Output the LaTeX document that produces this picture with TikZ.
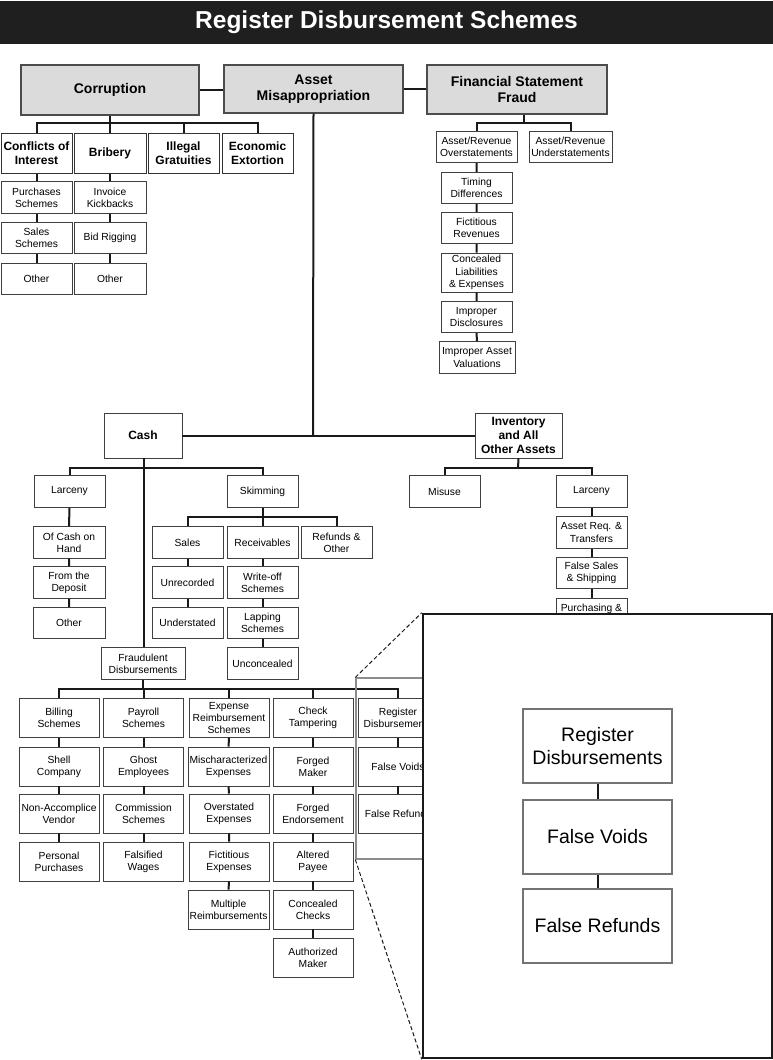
\documentclass[tikz,border=0pt]{standalone}
\usepackage{fontspec}
\setmainfont{Liberation Sans}
\usetikzlibrary{positioning,calc}

\begin{document}
\begin{tikzpicture}[x=1pt,y=-1pt,
    titlebar/.style={fill=black!88,text=white,minimum width=773pt,minimum height=43pt,inner sep=0pt,font=\fontsize{24.5}{28}\bfseries},
    topbox/.style={draw=black!70,fill=black!14,line width=1.2pt,align=center,inner sep=1pt,font=\fontsize{14}{16.5}\bfseries},
    midbox/.style={draw=black!80,fill=white,line width=1pt,align=center,inner sep=1pt,minimum width=71pt,minimum height=40pt,font=\fontsize{12}{14.5}\bfseries},
    box/.style={draw=black!75,fill=white,line width=0.9pt,align=center,inner sep=1pt,minimum width=71pt,minimum height=31.5pt,font=\fontsize{10.3}{12.3}\selectfont},
    wbox/.style={box,minimum width=80pt,minimum height=39pt},
    bigbox/.style={draw=black!55,fill=white,line width=1.2pt,align=center,minimum width=149pt,minimum height=74pt,font=\fontsize{19.5}{23}\selectfont},
    link/.style={draw=black!90,line width=2pt},
    srcframe/.style={draw=black!45,line width=1.3pt,minimum width=84pt,minimum height=181pt,inner sep=0pt},
    zoomframe/.style={draw=black!90,fill=white,line width=2.5pt,minimum width=349pt,minimum height=444pt,inner sep=0pt},
    zoomline/.style={draw=black!90,line width=1pt,dash pattern=on 4pt off 2.5pt},
]
\useasboundingbox (0,0) rectangle (773,1060);

% title
\node[titlebar] (title) at (386.5,22.5) {Register Disbursement Schemes};

% top level
\node[topbox,minimum width=178pt,minimum height=50pt] (corr)  at (110,90)    {Corruption};
\node[topbox,minimum width=179pt,minimum height=48pt] (asset) at (313.5,89)  {Asset\\Misappropriation};
\node[topbox,minimum width=180pt,minimum height=49pt] (fsf)   at (517,89.5)  {Financial Statement\\Fraud};
\draw[link] (corr.east) -- (corr.east -| asset.west);
\draw[link] (asset.east) -- (asset.east -| fsf.west);

% corruption branch
\node[midbox] (coi)  at (36.5,153)  {Conflicts of\\Interest};
\node[midbox,minimum width=72pt] (brib) at (110,153) {Bribery};
\node[midbox] (grat) at (183.5,153) {Illegal\\Gratuities};
\node[midbox] (ext)  at (257.5,153) {Economic\\Extortion};
\coordinate (corrbus) at (110,123);
\draw[link] (corr.south) -- (corrbus);
\draw[link] (coi.north) |- (corrbus) -| (ext.north);
\draw[link] (brib.north) -- (brib.north |- corrbus);
\draw[link] (grat.north) -- (grat.north |- corrbus);

\node[box] (coipurch)  at (36.5,197.5) {Purchases\\Schemes};
\node[box] (coisales)  at (36.5,238)   {Sales\\Schemes};
\node[box] (coiother)  at (36.5,279)   {Other};
\node[box,minimum width=72pt] (bribinv)   at (110,197.5) {Invoice\\Kickbacks};
\node[box,minimum width=72pt] (bribbid)   at (110,238)   {Bid Rigging};
\node[box,minimum width=72pt] (bribother) at (110,279)   {Other};
\draw[link] (coi) -- (coipurch) -- (coisales) -- (coiother);
\draw[link] (brib) -- (bribinv) -- (bribbid) -- (bribother);

% financial statement fraud branch
\node[box,minimum width=81pt] (fsfover)  at (476.5,147) {Asset/Revenue\\Overstatements};
\node[box,minimum width=83pt] (fsfunder) at (570.5,147) {Asset/Revenue\\Understatements};
\coordinate (fsfbus) at (523.5,123);
\draw[link] (fsfbus |- fsf.south) -- (fsfbus);
\draw[link] (fsfover.north) |- (fsfbus) -| (fsfunder.north);

\node[box] (timing)   at (476.5,188)   {Timing\\Differences};
\node[box] (fictrev)  at (476.5,228)   {Fictitious\\Revenues};
\node[box,minimum height=39pt] (concliab) at (476.5,272.5) {Concealed\\Liabilities\\\& Expenses};
\node[box] (impdisc)  at (476.5,317)   {Improper\\Disclosures};
\node[box,minimum width=76pt] (impval) at (477,357.5) {Improper Asset\\Valuations};
\draw[link] (fsfover) -- (timing) -- (fictrev) -- (concliab) -- (impdisc) -- (impval);

% asset misappropriation branch
\node[box,minimum width=78pt,minimum height=45pt,font=\fontsize{12}{14.5}\bfseries] (cash) at (143,435.5) {Cash};
\node[box,minimum width=87pt,minimum height=45pt,font=\fontsize{12}{14.2}\bfseries] (inv) at (518.5,435.5) {Inventory\\and All\\Other Assets};
\coordinate (assetbus) at (313,436);
\draw[link] (asset.south) -- (assetbus);
\draw[link] (cash.east) -- (cash.east -| inv.west);

% cash
\node[box] (larc) at (69.5,491.5)  {Larceny};
\node[box] (skim) at (262.5,491.5) {Skimming};
\node[box,minimum width=84pt] (fraud) at (143,663.5) {Fraudulent\\Disbursements};
\coordinate (cashbus) at (144,468);
\draw[link] (cash.south -| cashbus) -- (fraud.north -| cashbus);
\draw[link] (larc.north) |- (cashbus) -| (skim.north);

\node[box,minimum width=72pt] (ofcash)    at (69,542.5) {Of Cash on\\Hand};
\node[box,minimum width=72pt] (deposit)   at (69,582.5) {From the\\Deposit};
\node[box,minimum width=72pt] (larcother) at (69,623)   {Other};
\draw[link] (larc) -- (ofcash) -- (deposit) -- (larcother);

\node[box] (sales)   at (187.5,542.5) {Sales};
\node[box] (recv)    at (262.5,542.5) {Receivables};
\node[box] (refunds) at (336.5,542.5) {Refunds \&\\Other};
\coordinate (skimbus) at (262.5,517);
\draw[link] (skim) -- (recv);
\draw[link] (sales.north) |- (skimbus) -| (refunds.north);

\node[box] (unrec)      at (187.5,582.5) {Unrecorded};
\node[box] (understated) at (187.5,623)  {Understated};
\node[box] (writeoff)   at (262.5,582.5) {Write-off\\Schemes};
\node[box] (lapping)    at (262.5,623)   {Lapping\\Schemes};
\node[box] (unconc)     at (262.5,663.5) {Unconcealed};
\draw[link] (sales) -- (unrec) -- (understated);
\draw[link] (recv) -- (writeoff) -- (lapping) -- (unconc);

% inventory
\node[box] (misuse)  at (444.5,491.5) {Misuse};
\node[box] (invlarc) at (591.5,491.5) {Larceny};
\coordinate (invbus) at (518,468);
\draw[link] (inv.south) -- (invbus);
\draw[link] (misuse.north) |- (invbus) -| (invlarc.north);

\node[box] (assetreq)   at (591.5,532.5) {Asset Req. \&\\Transfers};
\node[box] (falsesales) at (591.5,573)   {False Sales\\\& Shipping};
\node[box,anchor=north] (purchrec) at (591.5,598) {Purchasing \&\\~};
\draw[link] (invlarc) -- (assetreq) -- (falsesales) -- (purchrec);

% fraudulent disbursements
\node[wbox] (billing)  at (59,718)    {Billing\\Schemes};
\node[wbox] (payroll)  at (143.5,718) {Payroll\\Schemes};
\node[wbox] (expense)  at (229,718)   {Expense\\Reimbursement\\Schemes};
\node[wbox] (check)    at (313,718)   {Check\\Tampering};
\node[wbox] (register) at (398,718)   {Register\\Disbursements};
\coordinate (fraudbus) at (143,689);
\draw[link] (fraud.south) -- (fraudbus);
\draw[link] (billing.north) |- (fraudbus) -| (register.north);
\draw[link] (payroll.north) -- (payroll.north |- fraudbus);
\draw[link] (expense.north) -- (expense.north |- fraudbus);
\draw[link] (check.north) -- (check.north |- fraudbus);

\node[wbox] (shell)    at (59,766.5) {Shell\\Company};
\node[wbox] (nonacc)   at (59,813.5) {Non-Accomplice\\Vendor};
\node[wbox] (personal) at (59,861.5) {Personal\\Purchases};
\draw[link] (billing) -- (shell) -- (nonacc) -- (personal);

\node[wbox] (ghost)      at (143.5,766.5) {Ghost\\Employees};
\node[wbox] (commission) at (143.5,813.5) {Commission\\Schemes};
\node[wbox] (falsified)  at (143.5,861.5) {Falsified\\Wages};
\draw[link] (payroll) -- (ghost) -- (commission) -- (falsified);

\node[wbox,minimum width=81pt] (mischar) at (228.5,766.5) {Mischaracterized\\Expenses};
\node[wbox] (overstated) at (229,813.5) {Overstated\\Expenses};
\node[wbox] (fictexp)    at (229,861.5) {Fictitious\\Expenses};
\node[wbox,minimum width=81pt] (multiple) at (228.5,909.5) {Multiple\\Reimbursements};
\draw[link] (expense) -- (mischar) -- (overstated) -- (fictexp) -- (multiple);

\node[wbox] (forgedmaker) at (313,766.5) {Forged\\Maker};
\node[wbox] (forgedend)   at (313,813.5) {Forged\\Endorsement};
\node[wbox] (altered)     at (313,861.5) {Altered\\Payee};
\node[wbox] (concealed)   at (313,909.5) {Concealed\\Checks};
\node[wbox] (authorized)  at (313,957.5) {Authorized\\Maker};
\draw[link] (check) -- (forgedmaker) -- (forgedend) -- (altered) -- (concealed) -- (authorized);

\node[wbox] (voids)    at (398,766.5) {False Voids};
\node[wbox] (refundsr) at (398,813.5) {False Refunds};
\draw[link] (register) -- (voids) -- (refundsr);

% zoomed view of register disbursements
\node[srcframe] (src) at (398,768.5) {};
\node[zoomframe] (zoom) at (597.5,836) {};
\draw[zoomline] (src.north west) -- (zoom.north west);
\draw[zoomline] (src.south west) -- (zoom.south west);

\node[bigbox] (zreg)     at (597.5,746) {Register\\Disbursements};
\node[bigbox] (zvoids)   at (597.5,837) {False Voids};
\node[bigbox] (zrefunds) at (597.5,926) {False Refunds};
\draw[link] (zreg) -- (zvoids) -- (zrefunds);
\end{tikzpicture}
\end{document}
